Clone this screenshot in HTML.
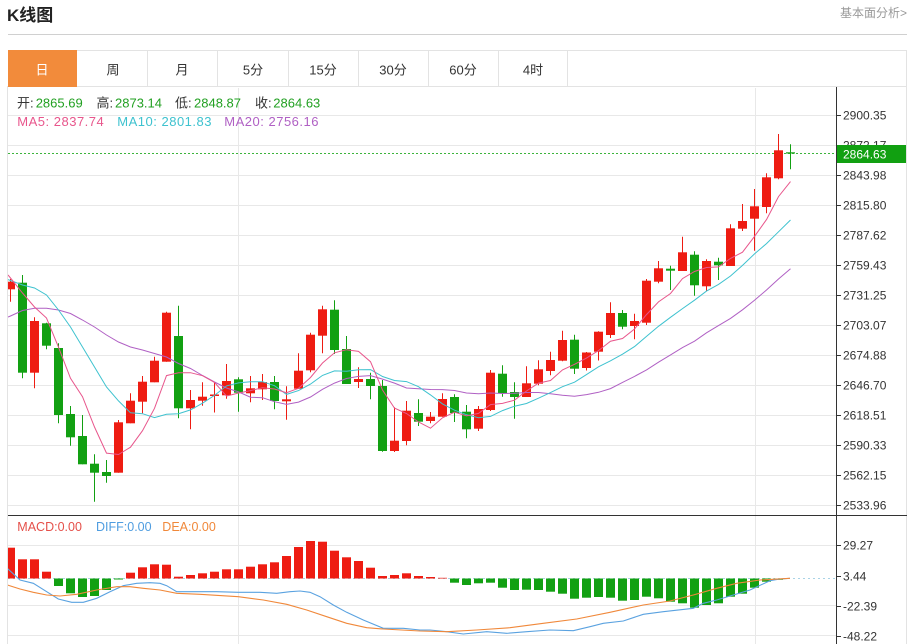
<!DOCTYPE html>
<html><head><meta charset="utf-8">
<style>
html,body{margin:0;padding:0;background:#fff;}
body{width:913px;height:644px;overflow:hidden;position:relative;font-family:"Liberation Sans","Noto Sans CJK SC",sans-serif;}
svg{position:absolute;left:0;top:0;}
</style></head><body>
<svg width="913" height="644" viewBox="0 0 913 644" xmlns="http://www.w3.org/2000/svg" font-family="Liberation Sans, Noto Sans CJK SC, sans-serif">
<defs>
<clipPath id="pc"><rect x="8" y="88" width="828" height="427"/></clipPath>
<clipPath id="mc"><rect x="8" y="516" width="828" height="128"/></clipPath>
</defs>
<!-- header -->
<text x="7" y="21" font-size="17" font-weight="bold" fill="#222">K线图</text>
<text x="840" y="17" font-size="12" fill="#999">基本面分析&gt;</text>
<line x1="8" y1="34.5" x2="907" y2="34.5" stroke="#d0d0d0"/>
<!-- tabs -->
<rect x="8.5" y="50.5" width="898" height="36" fill="#fff" stroke="#e3e3e3"/>
<rect x="8" y="50" width="69" height="37" fill="#f28b3b"/>
<g stroke="#e3e3e3">
<line x1="147.5" y1="50" x2="147.5" y2="86"/>
<line x1="217.5" y1="50" x2="217.5" y2="86"/>
<line x1="288.5" y1="50" x2="288.5" y2="86"/>
<line x1="358.5" y1="50" x2="358.5" y2="86"/>
<line x1="428.5" y1="50" x2="428.5" y2="86"/>
<line x1="498.5" y1="50" x2="498.5" y2="86"/>
<line x1="567.5" y1="50" x2="567.5" y2="86"/>
</g>
<g font-size="13" fill="#333" text-anchor="middle">
<text x="42" y="74.5" fill="#fff">日</text>
<text x="113" y="74.5">周</text>
<text x="182" y="74.5">月</text>
<text x="253" y="74.5">5分</text>
<text x="323" y="74.5">15分</text>
<text x="393" y="74.5">30分</text>
<text x="463" y="74.5">60分</text>
<text x="533" y="74.5">4时</text>
</g>
<!-- container borders -->
<line x1="7.5" y1="86" x2="7.5" y2="644" stroke="#e3e3e3"/>
<line x1="906.5" y1="86" x2="906.5" y2="644" stroke="#e3e3e3"/>
<!-- price gridlines -->
<g stroke="#e8e8e8">
<line x1="8" y1="115.5" x2="836" y2="115.5"/>
<line x1="8" y1="145.5" x2="836" y2="145.5"/>
<line x1="8" y1="175.5" x2="836" y2="175.5"/>
<line x1="8" y1="205.5" x2="836" y2="205.5"/>
<line x1="8" y1="235.5" x2="836" y2="235.5"/>
<line x1="8" y1="265.5" x2="836" y2="265.5"/>
<line x1="8" y1="295.5" x2="836" y2="295.5"/>
<line x1="8" y1="325.5" x2="836" y2="325.5"/>
<line x1="8" y1="355.5" x2="836" y2="355.5"/>
<line x1="8" y1="385.5" x2="836" y2="385.5"/>
<line x1="8" y1="415.5" x2="836" y2="415.5"/>
<line x1="8" y1="445.5" x2="836" y2="445.5"/>
<line x1="8" y1="475.5" x2="836" y2="475.5"/>
<line x1="8" y1="505.5" x2="836" y2="505.5"/>
<line x1="238.5" y1="88" x2="238.5" y2="644"/>
<line x1="755.5" y1="88" x2="755.5" y2="644"/>
<line x1="8" y1="545.5" x2="836" y2="545.5"/>
<line x1="8" y1="605.5" x2="836" y2="605.5"/>
<line x1="8" y1="635.5" x2="836" y2="635.5"/>
</g>
<line x1="8" y1="578.5" x2="836" y2="578.5" stroke="#a9d3e6" stroke-dasharray="2,3"/>
<!-- current price dotted -->
<line x1="8" y1="153.5" x2="836" y2="153.5" stroke="#3cb43c" stroke-dasharray="2,2"/>
<!-- info text -->
<g font-size="13">
<text x="17" y="107.5" fill="#333">开:</text><text x="35.7" y="107.5" fill="#22a022">2865.69</text>
<text x="96.5" y="107.5" fill="#333">高:</text><text x="115" y="107.5" fill="#22a022">2873.14</text>
<text x="175" y="107.5" fill="#333">低:</text><text x="194" y="107.5" fill="#22a022">2848.87</text>
<text x="255" y="107.5" fill="#333">收:</text><text x="273.3" y="107.5" fill="#22a022">2864.63</text>
<text x="17.3" y="126" fill="#e8568c" letter-spacing="0.5">MA5: 2837.74</text>
<text x="117.3" y="126" fill="#3ec2cf" letter-spacing="0.5">MA10: 2801.83</text>
<text x="224.3" y="126" fill="#b060c4" letter-spacing="0.5">MA20: 2756.16</text>
</g>
<g id="candles" clip-path="url(#pc)"></g>
<g id="mas" clip-path="url(#pc)" fill="none" stroke-width="1"></g>
<!-- MACD -->
<g id="macd" clip-path="url(#mc)"></g>
<g clip-path="url(#mc)" fill="none" stroke-width="1.1">
<polyline stroke="#5aa2e0" points="7.3,568.3 20,580 33.3,583.3 46.7,591.7 58.3,599 71.7,602.3 83.3,602.3 96.7,598.3 110,591.7 123.3,585.7 136.7,583.3 150,582.7 160,583.3 166.7,585.7 176.7,591.7 193.3,591.7 216.7,591.7 238.3,592.3 260,592.3 276.7,593.3 290,591.7 300,591 310,592.3 320,596.7 333.3,605 346.7,612.3 363.3,620 383.3,628.3 403.3,628.3 420,630 430,630 446.7,631.7 463.3,634 486.7,631.7 506.7,633.3 526.7,631.7 550,630 573.3,630.7 590,626.7 603.3,623.3 623.3,621 643.3,614.3 663.3,611.7 693.3,608.3 703.3,603.3 716.7,600 733.3,595 750,590 770,580.7 780,579 790,578.3"/>
<polyline stroke="#f0883a" points="7.3,585 20,589 33.3,592.3 46.7,595 60,596 76.7,594.3 96.7,590 116.7,586.7 130,586.7 143.3,588.3 160,590 176.7,593.3 200,594.3 238.3,596.7 263.3,600 286.7,604.3 306.7,610 326.7,616.7 346.7,623.3 366.7,627.7 383.3,629 420,631 446.7,631.7 476.7,630 510,627.7 543.3,623.3 576.7,619 610,612.3 643.3,605 670,601 693.3,595 716.7,588.3 736.7,583.3 760,580 790,578.3"/>
</g>
<g font-size="12.5">
<text x="17.3" y="531" fill="#e5504a">MACD:0.00</text>
<text x="96" y="531" fill="#4f9de0">DIFF:0.00</text>
<text x="162.3" y="531" fill="#f0883a">DEA:0.00</text>
</g>
<!-- axes -->
<line x1="836.5" y1="87" x2="836.5" y2="644" stroke="#333"/>
<line x1="8" y1="515.5" x2="907" y2="515.5" stroke="#333"/>
<g stroke="#333">
<line x1="836" y1="115.5" x2="841" y2="115.5"/><line x1="836" y1="145.5" x2="841" y2="145.5"/>
<line x1="836" y1="175.5" x2="841" y2="175.5"/><line x1="836" y1="205.5" x2="841" y2="205.5"/>
<line x1="836" y1="235.5" x2="841" y2="235.5"/><line x1="836" y1="265.5" x2="841" y2="265.5"/>
<line x1="836" y1="295.5" x2="841" y2="295.5"/><line x1="836" y1="325.5" x2="841" y2="325.5"/>
<line x1="836" y1="355.5" x2="841" y2="355.5"/><line x1="836" y1="385.5" x2="841" y2="385.5"/>
<line x1="836" y1="415.5" x2="841" y2="415.5"/><line x1="836" y1="445.5" x2="841" y2="445.5"/>
<line x1="836" y1="475.5" x2="841" y2="475.5"/><line x1="836" y1="505.5" x2="841" y2="505.5"/>
<line x1="836" y1="545.5" x2="841" y2="545.5"/><line x1="836" y1="576.5" x2="841" y2="576.5"/>
<line x1="836" y1="606.5" x2="841" y2="606.5"/><line x1="836" y1="636.5" x2="841" y2="636.5"/>
</g>
<g font-size="12" fill="#333">
<text x="843" y="119.5">2900.35</text>
<text x="843" y="149.5">2872.17</text>
<text x="843" y="179.5">2843.98</text>
<text x="843" y="209.5">2815.80</text>
<text x="843" y="239.5">2787.62</text>
<text x="843" y="269.5">2759.43</text>
<text x="843" y="299.5">2731.25</text>
<text x="843" y="329.5">2703.07</text>
<text x="843" y="359.5">2674.88</text>
<text x="843" y="389.5">2646.70</text>
<text x="843" y="419.5">2618.51</text>
<text x="843" y="449.5">2590.33</text>
<text x="843" y="479.5">2562.15</text>
<text x="843" y="509.5">2533.96</text>
<text x="843" y="549.5">29.27</text>
<text x="843" y="580.5">3.44</text>
<text x="843" y="610.5">-22.39</text>
<text x="843" y="640.5">-48.22</text>
</g>
<rect x="837" y="145" width="69" height="18" fill="#11a011"/>
<text x="843" y="158.5" font-size="12" fill="#fff">2864.63</text>
</svg>
<script>
(function(){
var D=[[289.3,281.7,279,301.7],[282.7,372.7,275,378.3],[372.7,321,317.3,388.3],[323.3,345.7,322.7,349.3],[348,415,343.3,423.3],[414,437.3,406,445.7],[436,464.3,415,464.3],[463.7,472.7,454.3,501.7],[472,476,460,482.7],[472.7,422.3,420,472.7],[423.3,400.7,393.3,423.3],[401.7,381.7,376,413.3],[382.3,360.7,356.7,382.3],[361.7,312.7,311.7,361.7],[336,408.3,305.7,418.3],[408.3,400,390,429.3],[400.7,396.7,382.3,405.7],[396,394.5,382.5,412.5],[395.3,381,364,398.7],[379.3,392.7,377.3,411.7],[393.3,388.3,376,402.3],[389.3,382,374,400],[382,401,376,409.3],[401.3,399.3,386.3,419.7],[388.7,370.7,353.3,388.7],[370.3,334.7,332.7,372.3],[335.7,309.3,305.7,353.3],[309.7,350,300.3,354],[349,384,336,384],[382,379,367.3,388],[379,386,372.7,399.3],[386,451,380,451.7],[451,440.7,407.3,452],[441,410.7,401,445.3],[413,421.7,399.3,426],[421,416.7,412,423.3],[416.7,399,393.3,416.7],[397,413,394.3,422],[411.7,429.3,405,438.3],[428.7,409,406,431],[410,372.7,370,411],[373.7,393,365.3,396.7],[392,397,382.3,418.7],[397,383.3,366.3,397],[383.7,369.3,360.3,385.3],[371,360,351.7,375.3],[360.7,340,330.7,361.3],[339.7,368.7,334.7,374],[368,352.5,352,370.5],[351.7,331.7,331.3,360.5],[335,313,302.3,338],[313,326.7,310,329.3],[326,321,313.7,339.3],[322.7,280.7,279,325],[281.7,268.3,261,283.3],[268.7,270.7,265.7,290],[271,252.3,236.7,271],[254.7,285.3,251.3,295.7],[286.3,261,259.3,291],[261.7,265.3,257.7,280],[266,228.3,224.3,266],[228.7,221,204,231],[218.7,206.3,189,250.7],[207,177.3,173.3,213.3],[178.3,150.3,134,179.3],[152.3,153.3,144.3,169.3]];
var RED='#ee1c12',GRN='#12a012';
var h='';
for(var i=0;i<D.length;i++){
 var o=D[i][0],c=D[i][1],hi=D[i][2],lo=D[i][3];
 var x=10.5+12*i;var col=(c<=o)?RED:GRN;
 h+='<line x1="'+x+'" y1="'+hi+'" x2="'+x+'" y2="'+lo+'" stroke="'+col+'" stroke-width="1"/>';
 var t=Math.min(o,c),bh=Math.max(1.2,Math.abs(o-c));
 h+='<rect x="'+(x-4.5)+'" y="'+t+'" width="9" height="'+bh+'" fill="'+col+'"/>';
}
document.getElementById('candles').innerHTML=h;
var C=D.map(function(d){return d[1];});
function ma(n,early){var r=[];for(var i=0;i<C.length;i++){if(i>=n-1){var s=0;for(var j=i-n+1;j<=i;j++)s+=C[j];r.push(s/n);}else r.push(early[i]);}return r;}
function pts(a){var p=[];var x0=8,y0=a[0]-(a[1]-a[0])*2.5/12;p.push(x0+','+y0.toFixed(1));for(var i=0;i<a.length;i++)p.push((10.5+12*i)+','+a[i].toFixed(1));return p.join(' ');}
var m5=ma(5,[278,293,307,318]);
var m10=ma(10,[280.5,285,288,295,310,327,347,367,387]);
var m20=ma(20,[316,310.5,308.3,308.3,310,313.5,320,327,335,342,347,350,353.5,357,363.5,368.5,375.5,382,388]);
document.getElementById('mas').innerHTML='<polyline stroke="#b060c4" points="'+pts(m20)+'"/><polyline stroke="#3ec2cf" points="'+pts(m10)+'"/><polyline stroke="#e8568c" points="'+pts(m5)+'"/>';
var M=[547.7,559.3,559.3,571.7,586,593.3,597,596,590,579.5,572.7,567.3,564.3,564.7,576.7,575,573.3,571.7,569.3,569.3,566.7,564.3,562.3,556,547,541,541.7,550.7,557.3,561,567.7,576,575,573.3,576,577,577.8,582.7,585,583.3,582.7,587.7,590,589.7,590,591.7,593.7,598.7,597.7,597,597.7,600.7,600,596.7,598.3,601.7,603.3,607.7,605,603.3,596.7,593.7,587.7,581.7,579.8,578.5];
var B=578.5,mh='';
for(var k=0;k<M.length;k++){
 var v=M[k];if(Math.abs(v-B)<0.2)continue;
 var xx=6+12*k;
 if(v<B){mh+='<rect x="'+xx+'" y="'+v+'" width="9" height="'+(B-v)+'" fill="'+RED+'"/>';}
 else{mh+='<rect x="'+xx+'" y="'+B+'" width="9" height="'+(v-B)+'" fill="'+GRN+'"/>';}
}
document.getElementById('macd').innerHTML=mh;
})();
</script>
</body></html>
